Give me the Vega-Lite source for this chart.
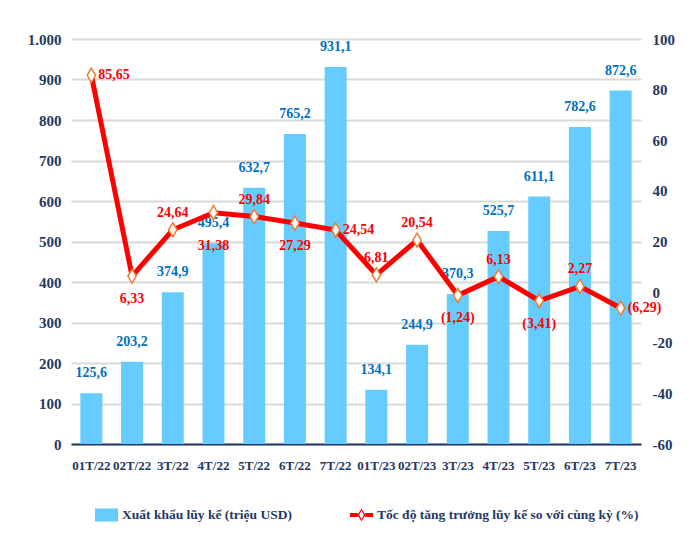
{
  "$schema": "https://vega.github.io/schema/vega-lite/v6.json",
  "width": 570,
  "height": 405,
  "autosize": {"type": "none"},
  "padding": {"left": 71, "top": 39, "right": 55, "bottom": 114},
  "background": "white",
  "config": {
    "locale": {"number": {"decimal": ",", "thousands": ".", "grouping": [3], "currency": ["", ""], "minus": "-"}},
    "font": "Liberation Serif",
    "view": {"stroke": null},
    "axis": {"labelFont": "Liberation Serif", "labelFontWeight": "bold", "labelColor": "#1F3864", "labelFontSize": 15, "ticks": false, "domain": false, "title": null}
  },
  "data": {"values": [
    {"month": "01T/22", "export": 125.6, "growth": 85.65},
    {"month": "02T/22", "export": 203.2, "growth": 6.33},
    {"month": "3T/22", "export": 374.9, "growth": 24.64},
    {"month": "4T/22", "export": 495.4, "growth": 31.38},
    {"month": "5T/22", "export": 632.7, "growth": 29.84},
    {"month": "6T/22", "export": 765.2, "growth": 27.29},
    {"month": "7T/22", "export": 931.1, "growth": 24.54},
    {"month": "01T/23", "export": 134.1, "growth": 6.81},
    {"month": "02T/23", "export": 244.9, "growth": 20.54},
    {"month": "3T/23", "export": 370.3, "growth": -1.24},
    {"month": "4T/23", "export": 525.7, "growth": 6.13},
    {"month": "5T/23", "export": 611.1, "growth": -3.41},
    {"month": "6T/23", "export": 782.6, "growth": 2.27},
    {"month": "7T/23", "export": 872.6, "growth": -6.29}
  ]},
  "encoding": {
    "x": {"field": "month", "type": "nominal", "sort": null,
      "scale": {"paddingInner": 0.46, "paddingOuter": 0.23},
      "axis": {"title": null, "labelAngle": 0, "domain": true, "domainColor": "#1F3864", "domainWidth": 2, "labelPadding": 15, "labelFontSize": 13, "labelOverlap": false, "grid": false}}
  },
  "layer": [
    {
      "encoding": {
        "y": {"field": "export", "type": "quantitative", "scale": {"domain": [0, 1000]},
          "axis": {"values": [0, 100, 200, 300, 400, 500, 600, 700, 800, 900, 1000], "format": ",d", "grid": true, "gridColor": "#D9D9D9", "gridWidth": 2, "labelPadding": 10, "title": null}}
      },
      "layer": [
        {
          "mark": {"type": "bar"},
          "encoding": {
            "color": {"datum": "Xuất khẩu lũy kế (triệu USD)",
              "scale": {"domain": ["Xuất khẩu lũy kế (triệu USD)", "Tốc độ tăng trưởng lũy kế so với cùng kỳ (%)"], "range": ["#66CCFF", "#FF0000"]},
              "legend": {"orient": "none", "legendX": 24, "legendY": 464, "direction": "horizontal", "title": null,
                "labelFont": "Liberation Serif", "labelFontWeight": "bold", "labelFontSize": 13.5, "labelColor": "#1F3864",
                "labelLimit": 400, "columnPadding": 58, "symbolSize": 529, "labelOffset": 4, "padding": 0,
                "encode": {"symbols": {"update": {
                  "shape": {"signal": "datum.value === 'Xuất khẩu lũy kế (triệu USD)' ? 'M-1,-0.57H1V0.57H-1Z' : 'M-1,-0.17H-0.32V0.17H-1Z M0.32,-0.17H1V0.17H0.32Z M0,-0.55L0.35,0L0,0.55L-0.35,0Z M0,-0.38L-0.2,0L0,0.38L0.2,0Z'"},
                  "fill": {"signal": "datum.value === 'Xuất khẩu lũy kế (triệu USD)' ? '#66CCFF' : '#FF0000'"},
                  "stroke": {"value": "transparent"},
                  "strokeWidth": {"value": 0},
                  "opacity": {"value": 1}
                }}}
              }}
          }
        },
        {
          "mark": {"type": "text", "baseline": "middle", "dy": -20, "fontSize": 14, "fontWeight": "bold", "font": "Liberation Serif", "fill": "#0070C0"},
          "encoding": {"text": {"field": "export", "type": "quantitative", "format": ".1f"}}
        }
      ]
    },
    {
      "encoding": {
        "y": {"field": "growth", "type": "quantitative", "scale": {"domain": [-60, 100]},
          "axis": {"orient": "right", "values": [-60, -40, -20, 0, 20, 40, 60, 80, 100], "format": "d", "grid": false, "labelPadding": 11, "title": null}}
      },
      "layer": [
        {
          "mark": {"type": "line", "strokeWidth": 5},
          "encoding": {"color": {"datum": "Tốc độ tăng trưởng lũy kế so với cùng kỳ (%)"}}
        },
        {
          "mark": {"type": "point", "shape": "M0,-1L0.6,0L0,1L-0.6,0Z", "size": 196, "filled": true, "fill": "white", "stroke": "#ED7D31", "strokeWidth": 1.5, "opacity": 1}
        },
        {
          "transform": [{"filter": {"field": "month", "oneOf": ["01T/22", "7T/22", "7T/23"]}}],
          "mark": {"type": "text", "align": "left", "baseline": "middle", "dx": 7, "fontSize": 14, "fontWeight": "bold", "font": "Liberation Serif", "fill": "#FF0000"},
          "encoding": {"text": {"field": "growth", "type": "quantitative", "format": "(.2f"}}
        },
        {
          "transform": [{"filter": {"field": "month", "oneOf": ["3T/22", "5T/22", "01T/23", "02T/23", "4T/23", "6T/23"]}}],
          "mark": {"type": "text", "baseline": "middle", "dy": -17, "fontSize": 14, "fontWeight": "bold", "font": "Liberation Serif", "fill": "#FF0000"},
          "encoding": {"text": {"field": "growth", "type": "quantitative", "format": "(.2f"}}
        },
        {
          "transform": [{"filter": {"field": "month", "oneOf": ["02T/22", "6T/22", "3T/23", "5T/23"]}}],
          "mark": {"type": "text", "baseline": "middle", "dy": 23, "fontSize": 14, "fontWeight": "bold", "font": "Liberation Serif", "fill": "#FF0000"},
          "encoding": {"text": {"field": "growth", "type": "quantitative", "format": "(.2f"}}
        },
        {
          "transform": [{"filter": {"field": "month", "equal": "4T/22"}}],
          "mark": {"type": "text", "baseline": "middle", "dy": 33, "fontSize": 14, "fontWeight": "bold", "font": "Liberation Serif", "fill": "#FF0000"},
          "encoding": {"text": {"field": "growth", "type": "quantitative", "format": "(.2f"}}
        }
      ]
    }
  ],
  "resolve": {"scale": {"y": "independent"}}
}
